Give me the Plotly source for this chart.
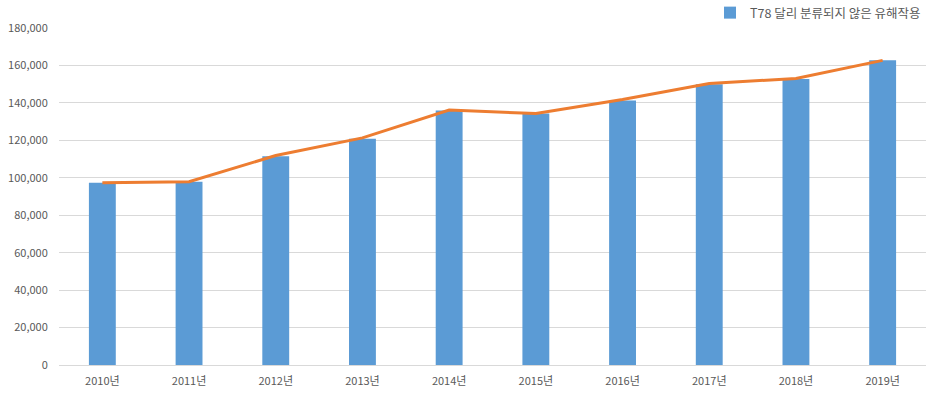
import plotly.graph_objects as go

categories = ["2010년", "2011년", "2012년", "2013년", "2014년", "2015년", "2016년", "2017년", "2018년", "2019년"]
bar_values = [97400, 97900, 111500, 120900, 135900, 134300, 141300, 150000, 152700, 162800]
line_values = [97400, 97900, 111900, 121300, 136200, 134300, 141800, 150400, 153000, 162700]
y_ticks = [0, 20000, 40000, 60000, 80000, 100000, 120000, 140000, 160000, 180000]
series_name = "T78 달리 분류되지 않은 유해작용"

FONT = "Noto Sans CJK KR"
TXT = "#595959"

fig = go.Figure()
fig.add_trace(go.Bar(
    x=categories, y=bar_values, name=series_name,
    marker=dict(color="#5B9BD5", line=dict(width=0)),
    width=0.31, showlegend=True,
))
fig.add_trace(go.Scatter(
    x=categories, y=line_values, mode="lines",
    line=dict(color="#ED7D31", width=3),
    showlegend=False, hoverinfo="skip",
))

fig.update_layout(
    width=941, height=403,
    margin=dict(l=59, r=15, t=28, b=38, autoexpand=False),
    paper_bgcolor="white", plot_bgcolor="white",
    font=dict(family=FONT, size=11, color=TXT),
    legend=dict(
        x=1.0, xanchor="right", y=1.0, yanchor="bottom",
        orientation="h", font=dict(size=12.5, color=TXT, family=FONT),
        bgcolor="rgba(0,0,0,0)", itemwidth=30,
    ),
    xaxis=dict(
        type="category", showgrid=False, showline=True, linecolor="#D9D9D9", linewidth=1,
        ticks="outside", ticklen=6, tickcolor="rgba(0,0,0,0)",
        tickfont=dict(size=11, color=TXT, family=FONT),
        range=[-0.5, 9.5],
    ),
    yaxis=dict(
        range=[0, 180000], tickvals=y_ticks, tickformat=",d",
        showgrid=True, gridcolor="#D9D9D9", gridwidth=1,
        zeroline=False, showline=False,
        ticks="outside", ticklen=8, tickcolor="rgba(0,0,0,0)",
        tickfont=dict(size=11, color=TXT, family=FONT),
    ),
)

fig.write_html("out.html")
